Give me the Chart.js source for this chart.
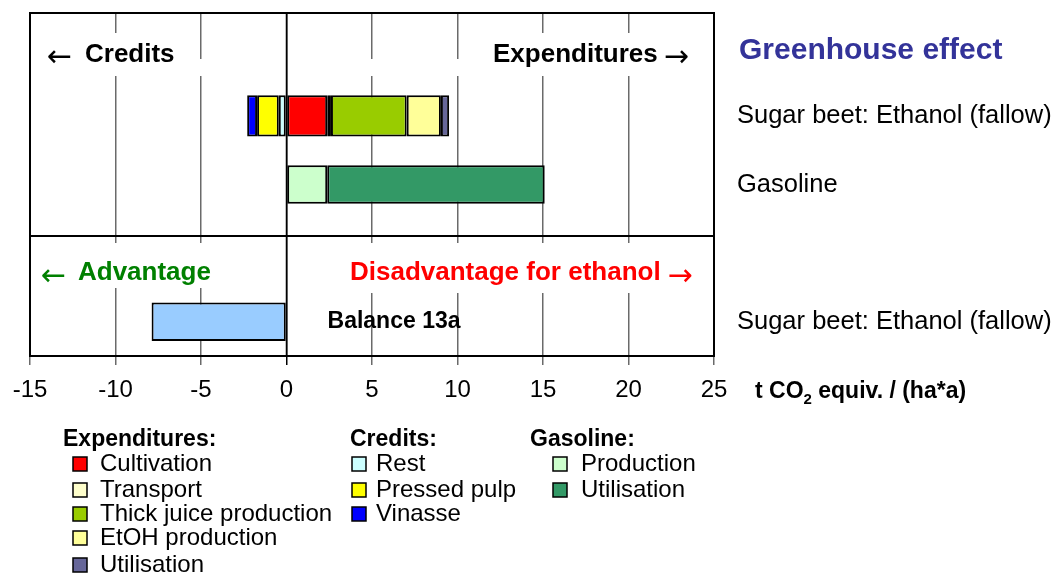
<!DOCTYPE html>
<html>
<head>
<meta charset="utf-8">
<script src="https://cdn.jsdelivr.net/npm/chart.js@4.4.1/dist/chart.umd.min.js"></script>
<style>
  html, body { margin: 0; padding: 0; background: #fff; }
  #wrap { width: 1057px; height: 575px; position: relative; }
</style>
</head>
<body>
<div id="wrap"><canvas id="chart"></canvas></div>
<script>
// ROWS (top to bottom), empty rows only keep the spacing
const rows = ["", "Sugar beet: Ethanol (fallow)", "Gasoline", "", "Sugar beet: Ethanol (fallow)"];

// X AXIS
const X_MIN = -15;
const X_MAX = 25;
const X_STEP = 5;

// CREDITS (t CO2 equiv. / (ha*a))
const rest        = [null, -0.45, null, null, null];
const pressedPulp = [null, -1.27, null, null, null];
const vinasse     = [null, -0.58, null, null, null];

// EXPENDITURES
const cultivation = [null, 2.38, null, null, null];
const transport   = [null, 0.22, null, null, null];
const thickJuice  = [null, 4.43, null, null, null];
const etohProd    = [null, 2.00, null, null, null];
const utilisation = [null, 0.48, null, null, null];

// GASOLINE
const gasProduction  = [null, null, 2.38, null, null];
const gasUtilisation = [null, null, 12.72, null, null];

// BALANCE
const balance = [null, null, null, null, -7.89];

const FONT = "'Liberation Sans', Arial, sans-serif";
const ARROW_FONT = "'DejaVu Sans', sans-serif";
Chart.defaults.font.family = FONT;
Chart.defaults.color = "#000";

function bar(label, data, color, group, pct) {
  return {
    label: label,
    data: data,
    backgroundColor: color,
    borderColor: "#000",
    borderWidth: 2,
    borderSkipped: false,
    barPercentage: pct,
    categoryPercentage: 1,
    stack: "s",
    group: group
  };
}

const datasets = [
  bar("Rest", rest, "#CCFFFF", "Credits:", 0.6),
  bar("Pressed pulp", pressedPulp, "#FFFF00", "Credits:", 0.6),
  bar("Vinasse", vinasse, "#0000FF", "Credits:", 0.6),
  bar("Cultivation", cultivation, "#FF0000", "Expenditures:", 0.6),
  bar("Transport", transport, "#FFFFCC", "Expenditures:", 0.6),
  bar("Thick juice production", thickJuice, "#99CC00", "Expenditures:", 0.6),
  bar("EtOH production", etohProd, "#FFFF99", "Expenditures:", 0.6),
  bar("Utilisation", utilisation, "#666699", "Expenditures:", 0.6),
  bar("Production", gasProduction, "#CCFFCC", "Gasoline:", 0.56),
  bar("Utilisation", gasUtilisation, "#339966", "Gasoline:", 0.56),
  bar("Balance 13a", balance, "#99CCFF", null, 0.56)
];

// white boxes behind the texts (they cut the grid lines)
const gapBoxes = [
  [35, 33, 155, 43],
  [190, 59, 90, 17],
  [295, 59, 175, 17],
  [480, 33, 230, 43],
  [35, 243, 245, 45],
  [295, 243, 415, 50]
];

const legendCols = [
  { title: "Expenditures:", tx: 63, sx: 73, ix: 100 },
  { title: "Credits:", tx: 350, sx: 352, ix: 376 },
  { title: "Gasoline:", tx: 530, sx: 553, ix: 581 }
];
const legendRowY = [464, 490, 514, 538, 565];

function txt(ctx, s, x, y, size, bold, color, family) {
  ctx.font = (bold ? "bold " : "") + size + "px " + (family || FONT);
  ctx.fillStyle = color || "#000";
  ctx.textAlign = "left";
  ctx.textBaseline = "alphabetic";
  ctx.fillText(s, x, y);
  return ctx.measureText(s).width;
}

const overlay = {
  id: "overlay",
  beforeDatasetsDraw(chart) {
    const ctx = chart.ctx;
    const x = chart.scales.x;
    const a = chart.chartArea;
    ctx.save();
    ctx.fillStyle = "#fff";
    gapBoxes.forEach(b => ctx.fillRect(b[0], b[1], b[2], b[3]));
    // zero line over the boxes
    ctx.strokeStyle = "#000";
    ctx.lineWidth = 1.5;
    ctx.beginPath();
    ctx.moveTo(x.getPixelForValue(0), a.top);
    ctx.lineTo(x.getPixelForValue(0), a.bottom);
    ctx.stroke();
    ctx.restore();
  },
  afterDraw(chart) {
    const ctx = chart.ctx;
    const a = chart.chartArea;
    const x = chart.scales.x;
    const y = chart.scales.y;
    ctx.save();

    // frame and divider
    ctx.strokeStyle = "#000";
    ctx.lineWidth = 2;
    ctx.strokeRect(a.left, a.top, a.right - a.left, a.bottom - a.top);
    const y2 = y.getPixelForValue(2), y3 = y.getPixelForValue(3);
    const dy = Math.round(y2 + (y3 - y2) * 0.75);
    ctx.beginPath();
    ctx.moveTo(a.left, dy);
    ctx.lineTo(a.right, dy);
    ctx.stroke();

    // section texts
    txt(ctx, "\u2190", 47, 66, 30, false, "#000", ARROW_FONT);
    txt(ctx, "Credits", 85, 62, 26, true);
    let w = txt(ctx, "Expenditures", 493, 62, 26, true);
    txt(ctx, "\u2192", 493 + w + 6, 66, 30, false, "#000", ARROW_FONT);

    txt(ctx, "\u2190", 41, 285, 30, false, "#008000", ARROW_FONT);
    txt(ctx, "Advantage", 78, 280, 26, true, "#008000");
    w = txt(ctx, "Disadvantage for ethanol", 350, 280, 26, true, "#FF0000");
    txt(ctx, "\u2192", 350 + w + 7, 285, 30, false, "#FF0000", ARROW_FONT);

    ctx.textBaseline = "middle";
    ctx.font = "bold 23px " + FONT;
    ctx.fillStyle = "#000";
    ctx.textAlign = "left";
    ctx.fillText("Balance 13a", x.getPixelForValue(2.4), y.getPixelForValue(4));

    // title
    txt(ctx, "Greenhouse effect", 739, 59, 30, true, "#333399");

    // axis title with subscript
    let ax = 755;
    ax += txt(ctx, "t CO", ax, 398, 23, true);
    ax += txt(ctx, "2", ax, 404, 15, true);
    txt(ctx, " equiv. / (ha*a)", ax, 398, 23, true);

    // legend
    const ds = chart.data.datasets;
    legendCols.forEach(col => {
      txt(ctx, col.title, col.tx, 446, 23, true);
      const items = ds.filter(d => d.group === col.title);
      items.forEach((d, i) => {
        const cy = legendRowY[i];
        ctx.fillStyle = d.backgroundColor;
        ctx.fillRect(col.sx, cy - 7, 14, 14);
        ctx.strokeStyle = "#000";
        ctx.lineWidth = 1.5;
        ctx.strokeRect(col.sx, cy - 7, 14, 14);
        ctx.font = "24px " + FONT;
        ctx.fillStyle = "#000";
        ctx.textAlign = "left";
        ctx.textBaseline = "middle";
        ctx.fillText(d.label, col.ix, cy);
      });
    });
    ctx.restore();
  }
};

new Chart(document.getElementById("chart"), {
  type: "bar",
  data: { labels: rows, datasets: datasets },
  options: {
    indexAxis: "y",
    responsive: true,
    maintainAspectRatio: false,
    animation: false,
    layout: { padding: { top: 13, left: 30, right: 0, bottom: 0 } },
    plugins: { legend: { display: false }, tooltip: { enabled: false } },
    scales: {
      x: {
        type: "linear",
        min: X_MIN,
        max: X_MAX,
        stacked: true,
        ticks: { stepSize: X_STEP, font: { size: 24 }, color: "#000", padding: 11 },
        grid: {
          color: c => (c.tick && c.tick.value === 0 ? "#000" : "#6a6a6a"),
          lineWidth: 1.5,
          tickLength: 9
        },
        border: { display: true, color: "#000", width: 2 },
        afterFit: s => { s.height = 219; }
      },
      y: {
        type: "category",
        position: "right",
        stacked: true,
        grid: { display: false, drawTicks: false },
        border: { display: false },
        ticks: { font: { size: 25.5 }, color: "#000", padding: 23, autoSkip: false },
        afterFit: s => { s.width = 343; s.paddingTop = 0; s.paddingBottom = 0; }
      }
    }
  },
  plugins: [overlay]
});
</script>
</body>
</html>
